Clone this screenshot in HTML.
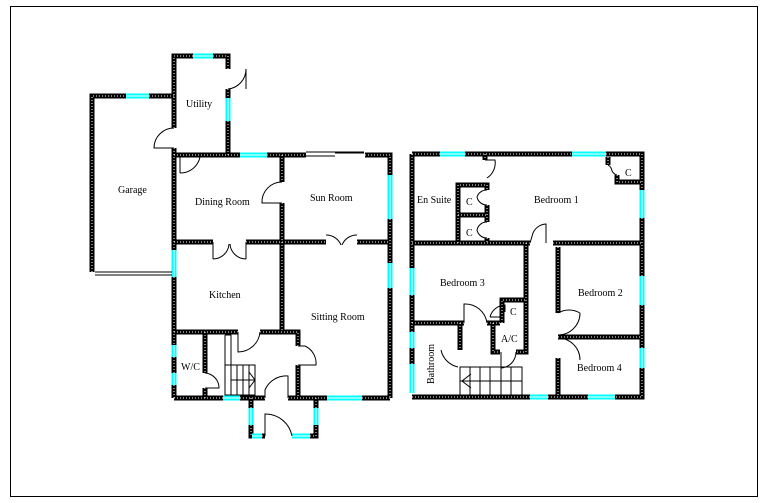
<!DOCTYPE html>
<html><head><meta charset="utf-8"><style>
html,body{margin:0;padding:0;background:#fff;width:768px;height:503px;overflow:hidden}
svg{display:block}
text{font-family:"Liberation Serif",serif;font-size:10px;fill:#000}
</style></head><body>
<svg width="768" height="503" viewBox="0 0 768 503" xmlns="http://www.w3.org/2000/svg">
<rect x="10.5" y="6.5" width="747" height="490" fill="none" stroke="#000" stroke-width="1"/>
<defs>
<g id="walls" fill="none">
<!-- garage / utility -->
<path d="M92 272V96H126M149 96H174"/>
<path d="M174 128V56H193M213 56H228V69M228 89V98M228 121V155"/>
<!-- ground main -->
<path d="M174 148V250M174 277V345M174 357V373M174 385V398"/>
<path d="M174 155H240M267 155H306M365 155H390V175M390 219V263M390 288V398"/>
<path d="M174 398H223M240 398H265M288 398H327M362 398H390"/>
<path d="M282 155V182M282 203V332"/>
<path d="M174 242H213M246 242H326M357 242H390"/>
<path d="M174 332H238M260 332H298V346M298 365V398"/>
<path d="M205 332V373M205 388V398"/>
<path d="M251 398V408M251 425V436H252M262 436H265M292 436M310 436H316V425M316 408V398"/>
<!-- upstairs -->
<path d="M412 154H440M465 154H572M606 154H642V190M642 218V276M642 305V348M642 368V397H615M588 397H548M530 397H412"/>
<path d="M412 154V268M412 295V332M412 348V364"/>
<path d="M412 243H530M553 243H642"/>
<path d="M526 243V352H516M493 323V352H500"/>
<path d="M502 323V300H526M412 323H464M487 323H500"/>
<path d="M460 323V350"/>
<path d="M558 247V313M558 358V397M558 337H642"/>
<path d="M458 243V185H487V190M487 205V222M458 215H487M487 238V243M485 154V160"/>
<path d="M608 157V165M617 175V182H642"/>
</g>
</defs>
<use href="#walls" stroke="#000" stroke-width="5"/>
<use href="#walls" stroke="#fff" stroke-width="1" stroke-dasharray="1 2"/>
<!-- windows -->
<g stroke="#0ff" stroke-width="5" fill="none">
<path d="M126 96H149M193 56H213M228 98V121M240 155H267M390 175V219M390 263V288M174 250V277M174 345V357M174 373V385M223 398H240M327 398H362M251 408V425M316 408V425M252 436H262M292 436H310"/>
<path d="M440 154H465M572 154H606M642 190V218M642 276V305M642 348V368M588 397H615M530 397H548M412 268V295M412 332V348M412 364V393"/>
</g>
<g stroke="#fff" stroke-width="1" fill="none">
<path d="M126 96H149M193 56H213M228 98V121M240 155H267M390 175V219M390 263V288M174 250V277M174 345V357M174 373V385M223 398H240M327 398H362M251 408V425M316 408V425M252 436H262M292 436H310"/>
<path d="M440 154H465M572 154H606M642 190V218M642 276V305M642 348V368M588 397H615M530 397H548M412 268V295M412 332V348M412 364V393"/>
</g>
<!-- thin lines, doors, arcs -->
<g stroke="#000" stroke-width="1" fill="none">
<path d="M95 272H172M95 275H172M306 152H364M306 156H335M335 153H364"/>
<path d="M246 69V89M246 69A20 20 0 0 1 228 89"/>
<path d="M174 148H154A20 20 0 0 1 174 128"/>
<path d="M180 173V157M180 173A20 20 0 0 0 200 157"/>
<path d="M282 203H262A20 20 0 0 1 282 182"/>
<path d="M213 242V259M213 259A16 16 0 0 0 229 244M246 242V259M246 259A16 16 0 0 1 230 244"/>
<path d="M326 235A16 16 0 0 1 341 245M357 235A16 16 0 0 0 342 245"/>
<path d="M238 332V352A22 22 0 0 0 260 332"/>
<path d="M298 346H305A19 19 0 0 1 316 365H298"/>
<path d="M265 398V390A23 23 0 0 1 288 376V398"/>
<path d="M265 436V414A27 27 0 0 1 292 436"/>
<path d="M205 373A15 15 0 0 1 219 388H205"/>
<path d="M225 335H231V395M225 365H255V395H225V335M237 365V395M243 365V395M249 365V395M231 380H255M249 372L255 380L249 388"/>
<path d="M485 160H495A18 18 0 0 1 487 178"/>
<path d="M487 190A10 10 0 0 0 477 197M487 205A10 10 0 0 1 477 197"/>
<path d="M487 222A10 10 0 0 0 477 230M487 238A10 10 0 0 1 477 230"/>
<path d="M608 165A8 8 0 0 1 612 171M617 175A8 8 0 0 1 612 171"/>
<path d="M530 243L533 233A15 15 0 0 1 546 224V243"/>
<path d="M464 323V304A22 22 0 0 1 487 323"/>
<path d="M490 317A16 16 0 0 1 505 305V312M502 317H490"/>
<path d="M501 352V368A16 16 0 0 0 516 352"/>
<path d="M441 350A22 22 0 0 0 458 367"/>
<path d="M558 313A22 22 0 0 1 580 313M558 335A22 22 0 0 0 580 313"/>
<path d="M558 338A22 22 0 0 1 580 360"/>
<path d="M460 367H522V395H460ZM460 381H522M470 367V395M480 367V395M490 367V395M501 367V395M511 367V395M471 374L462 381L471 388"/>
</g>
<text x="118" y="193">Garage</text>
<text x="186" y="107">Utility</text>
<text x="195" y="205">Dining Room</text>
<text x="310" y="201">Sun Room</text>
<text x="209" y="298">Kitchen</text>
<text x="311" y="320">Sitting Room</text>
<text x="181" y="370">W/C</text>
<text x="417" y="203">En Suite</text>
<text x="466" y="205">C</text>
<text x="466" y="236">C</text>
<text x="534" y="203">Bedroom 1</text>
<text x="625" y="176">C</text>
<text x="440" y="286">Bedroom 3</text>
<text x="578" y="296">Bedroom 2</text>
<text x="510" y="315">C</text>
<text x="501" y="342">A/C</text>
<text x="577" y="371">Bedroom 4</text>
<text transform="translate(434,384) rotate(-90)">Bathroom</text>
</svg>
</body></html>
